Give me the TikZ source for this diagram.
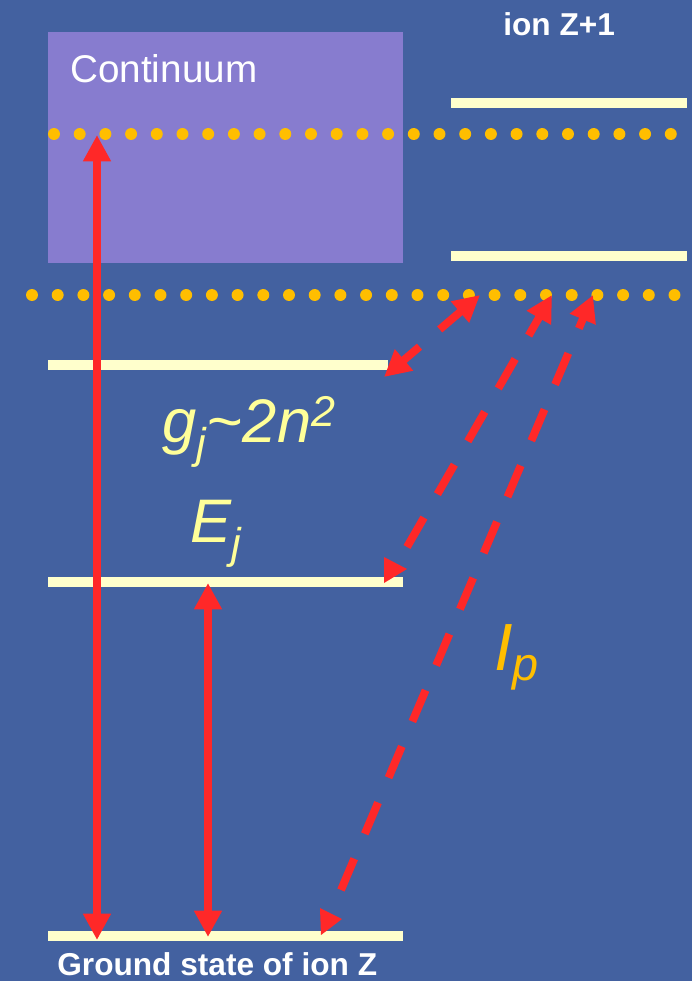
\documentclass[tikz,border=0pt]{standalone}
\usepackage{fontspec}
\setmainfont{Liberation Sans}
\usetikzlibrary{arrows.meta,calc}

\definecolor{bgblue}{RGB}{67,97,160}
\definecolor{contpurple}{RGB}{135,124,207}
\definecolor{levelcream}{RGB}{255,255,204}
\definecolor{dotorange}{RGB}{255,190,0}
\definecolor{arrowred}{RGB}{255,40,40}
\definecolor{labelyellow}{RGB}{255,255,153}

\tikzset{
  level/.style={levelcream, line width=5.2pt},
  sarrow/.style={arrowred, line width=4.5pt, {Triangle[length=15pt,width=15pt]}-{Triangle[length=15pt,width=15pt]}},
  harrow/.style={arrowred, line width=4.5pt, -{Triangle[length=15pt,width=15pt]}},
  darrow/.style={harrow, dash pattern=on 0.68cm off 0.54cm},
  lowhead/.style={fill=arrowred},
  plain text/.style={anchor=base west, inner sep=0pt, white},
}

\begin{document}
\begin{tikzpicture}[x=0.02cm,y=-0.02cm]
\fill[bgblue] (0,0) rectangle (692,981);
\useasboundingbox (0,0) rectangle (692,981);
% continuum above the limit of ion Z
\fill[contpurple] (48,32) rectangle (403,263);
\node[plain text, font=\fontsize{22}{26}\selectfont] (cont) at (70,82) {Continuum};
\node[plain text, font=\bfseries\fontsize{18}{21}\selectfont] (ionb) at (503,35) {ion Z+1};
% levels of ion Z+1 and of ion Z
\foreach \y in {103,256} \draw[level] (451,\y) -- (687,\y);
\draw[level] (48,365) -- (388,365);
\foreach \y in {582,936} \draw[level] (48,\y) -- (403,\y);
% ionisation limits
\foreach \i in {0,...,24} \fill[dotorange] (54+25.7*\i,134) circle (3.4pt);
\foreach \i in {0,...,25} \fill[dotorange] (32+25.7*\i,295) circle (3.4pt);
% end points
\coordinate (contTop) at (97,135);
\coordinate (gndA) at (97,940);
\coordinate (ejUp) at (208,583);
\coordinate (gndB) at (208,937);
\coordinate (rydLow) at (384,377);
\coordinate (limA) at (480,295);
\coordinate (ejDash) at (407,547);
\coordinate (limB) at (552,295);
\coordinate (gndDash) at (341,890);
\coordinate (limC) at (593,295);
% solid transitions
\draw[sarrow] (gndA) -- (contTop);
\draw[sarrow] (gndB) -- (ejUp);
% dashed transitions
\draw[harrow] ($(rydLow)!0.58!(limA)$) -- (limA);
\draw[harrow] ($(rydLow)!0.37!(limA)$) -- (rydLow);
\draw[darrow] (ejDash) -- (limB);
\draw[darrow] (gndDash) -- (limC);
\fill[lowhead] (384,557) -- (407,569) -- (384,583) -- cycle;
\fill[lowhead] (320,908) -- (342,919) -- (321,935) -- cycle;
% labels
\node[plain text, labelyellow, font=\itshape\fontsize{35}{40}\selectfont] (degen) at (162,442) {g\textsubscript{j}\textasciitilde 2n\textsuperscript{2}};
\node[plain text, labelyellow, font=\itshape\fontsize{35}{40}\selectfont] (energy) at (190,542) {E\textsubscript{j}};
\node[plain text, dotorange, font=\itshape\fontsize{38}{44}\selectfont] (ipot) at (494,670) {I\textsubscript{p}};
\node[plain text, font=\bfseries\fontsize{18}{21}\selectfont] (gstate) at (57,975) {Ground state of ion Z};
\end{tikzpicture}
\end{document}
